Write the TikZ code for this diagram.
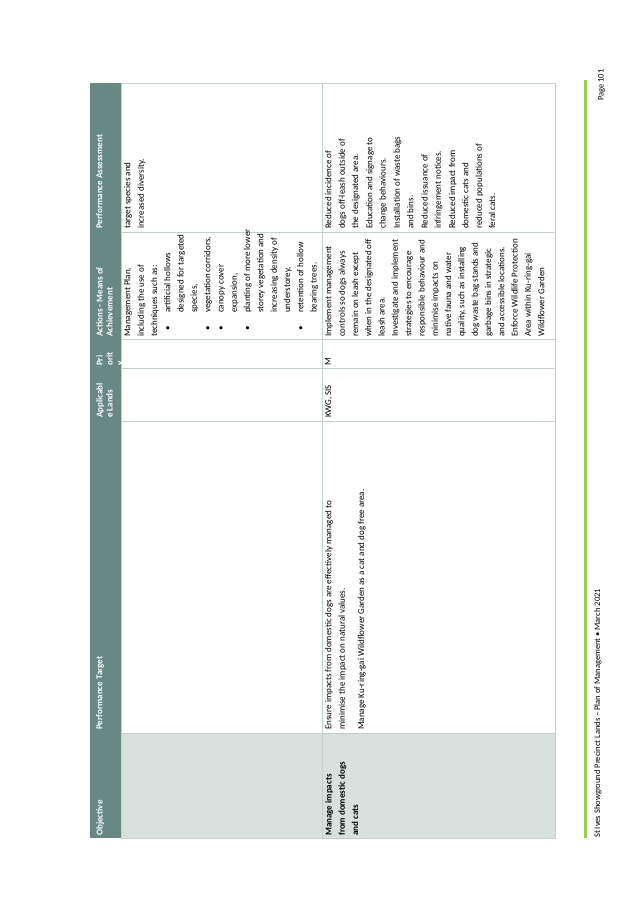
\documentclass[tikz,border=0pt]{standalone}
\usepackage{fontspec}
\setmainfont{Carlito}
\definecolor{headteal}{RGB}{104,136,132}
\definecolor{objgrey}{RGB}{217,225,223}
\definecolor{rulegrey}{RGB}{196,208,206}
\definecolor{footgreen}{RGB}{155,205,85}
\newcommand{\bl}{\hspace*{6pt}\makebox[18pt][l]{\textbullet}}
\newcommand{\ind}{\hspace*{24pt}}
\tikzset{
  cell/.style={rotate=90, anchor=north west, inner sep=0pt, align=left,
    font=\fontsize{9}{13.3}\selectfont},
  head/.style={cell, text=white, font=\fontsize{9}{10}\selectfont\bfseries}
}
\begin{document}
\begin{tikzpicture}[x=1pt, y=-1pt]
  \useasboundingbox (0,0) rectangle (638,900);
  % table
  \fill[headteal] (90,83) rectangle (121,838);
  \fill[objgrey] (121,733) rectangle (555,838);
  \draw[rulegrey, thick] (121,83) rectangle (555,838);
  \draw[rulegrey, thick] (322,83) -- (322,838);
  \foreach \y in {733,421,368,339,232}
    \draw[rulegrey, thick] (121,\y) -- (555,\y);
  % header
  \node[head] (hobj) at (96,836) {Objective};
  \node[head] (htarget) at (96,730) {Performance Target};
  \node[head] (hlands) at (96,418) {Applicabl\\e Lands};
  \node[head] (hprio) at (96,366) {Pri\\orit\\y};
  \node[head] (hact) at (96,337) {Actions - Means of\\Achievement};
  \node[head] (hassess) at (96,229) {Performance Assessment};
  % row 1
  \node[cell] (act1) at (124,337) {Management Plan,\\including the use of\\techniques such as:\\
    \bl artificial hollows\\\ind designed for targeted\\\ind species,\\
    \bl vegetation corridors,\\\bl canopy cover\\\ind expansion,\\
    \bl planting of more lower\\\ind storey vegetation and\\\ind increasing density of\\\ind understorey,\\
    \bl retention of hollow\\\ind bearing trees.};
  \node[cell] (assess1) at (124,229) {target species and\\increased diversity.};
  % row 2
  \node[cell, font=\fontsize{9}{13.3}\selectfont\bfseries] (obj2) at (325,836)
    {Manage impacts\\from domestic dogs\\and cats};
  \node[cell] (target2) at (325,730) {Ensure impacts from domestic dogs are effectively managed to\\
    minimise the impact on natural values.\\[6pt]
    Manage Ku-ring-gai Wildflower Garden as a cat and dog free area.};
  \node[cell] (lands2) at (325,418) {KWG, SIS};
  \node[cell] (prio2) at (325,366) {M};
  \node[cell] (act2) at (325,337) {Implement management\\controls so dogs always\\remain on leash except\\
    when in the designated off\\leash area.\\Investigate and implement\\strategies to encourage\\
    responsible behaviour and\\minimise impacts on\\native fauna and water\\quality, such as installing\\
    dog waste bag stands and\\garbage bins in strategic\\and accessible locations.\\
    Enforce Wildlife Protection\\Area within Ku-ring-gai\\Wildflower Garden};
  \node[cell] (assess2) at (325,229) {Reduced incidence of\\dogs off-leash outside of\\the designated area.\\[1pt]
    Education and signage to\\change behaviours.\\[1pt]Installation of waste bags\\and bins.\\[1pt]
    Reduced issuance of\\infringement notices.\\[1pt]Reduced impact from\\domestic cats and\\
    reduced populations of\\feral cats.};
  % footer
  \draw[footgreen, line width=3pt] (585,80) -- (585,838);
  \node[cell, font=\fontsize{8.5}{10}\selectfont] (footer) at (594,838)
    {St Ives Showground Precinct Lands – Plan of Management • March 2021};
  \node[cell, font=\fontsize{8.5}{10}\selectfont] (page) at (598,101) {Page 101};
\end{tikzpicture}
\end{document}
